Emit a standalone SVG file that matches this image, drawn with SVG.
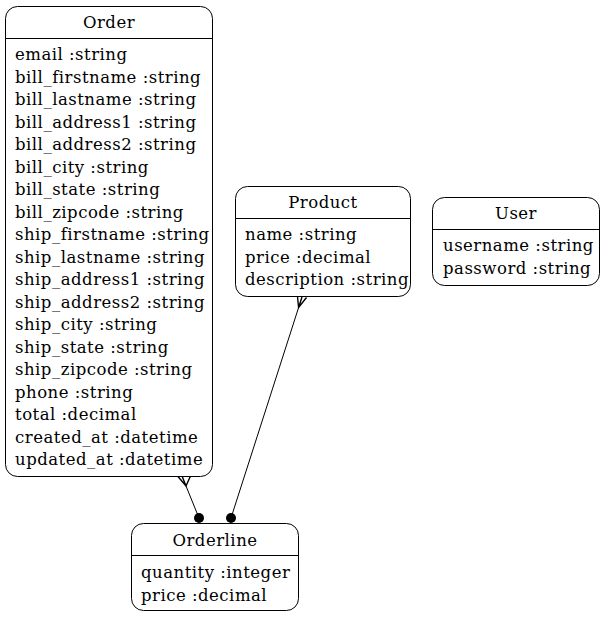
<svg xmlns="http://www.w3.org/2000/svg" width="605" height="617" viewBox="0 0 605 617">
<style>
.box{fill:#fff;stroke:#000;stroke-width:1}
.sep{stroke:#000;stroke-width:1}
text{font-family:"DejaVu Serif",serif;font-size:16.5px;letter-spacing:0.5px;fill:#000}
.t{text-anchor:middle}
.edge{stroke:#000;stroke-width:1;fill:none}
.crow{stroke:#000;stroke-width:1.4;fill:none;stroke-linejoin:miter}
</style>
<rect width="605" height="617" fill="#fff"/>
<g id="connectors">
<path class="edge" d="M186,486 L199,518"/>
<path class="crow" d="M177.5,476 L186,486 L190.5,476 M182,476 L186,486"/>
<circle cx="199" cy="518" r="5" fill="#000"/>
<path class="edge" d="M298.6,307.5 L231,518"/>
<path class="crow" d="M297.5,296.5 L298.6,307.5 L306.5,297.5 M302,297 L298.6,307.5"/>
<circle cx="231" cy="518" r="5" fill="#000"/>
</g>
<g id="Order">
<rect class="box" x="5.5" y="6.5" width="207" height="470" rx="12"/>
<line class="sep" x1="5.5" y1="38.5" x2="212.5" y2="38.5"/>
<text class="t" x="109" y="28">Order</text>
<text x="15" y="60">email :string</text>
<text x="15" y="82.5">bill_firstname :string</text>
<text x="15" y="105">bill_lastname :string</text>
<text x="15" y="127.5">bill_address1 :string</text>
<text x="15" y="150">bill_address2 :string</text>
<text x="15" y="172.5">bill_city :string</text>
<text x="15" y="195">bill_state :string</text>
<text x="15" y="217.5">bill_zipcode :string</text>
<text x="15" y="240">ship_firstname :string</text>
<text x="15" y="262.5">ship_lastname :string</text>
<text x="15" y="285">ship_address1 :string</text>
<text x="15" y="307.5">ship_address2 :string</text>
<text x="15" y="330">ship_city :string</text>
<text x="15" y="352.5">ship_state :string</text>
<text x="15" y="375">ship_zipcode :string</text>
<text x="15" y="397.5">phone :string</text>
<text x="15" y="420">total :decimal</text>
<text x="15" y="442.5">created_at :datetime</text>
<text x="15" y="465">updated_at :datetime</text>
</g>
<g id="Product">
<rect class="box" x="235.5" y="186.5" width="175" height="110" rx="12"/>
<line class="sep" x1="235.5" y1="218.5" x2="410.5" y2="218.5"/>
<text class="t" x="323" y="208">Product</text>
<text x="245" y="240">name :string</text>
<text x="245" y="262.5">price :decimal</text>
<text x="245" y="285">description :string</text>
</g>
<g id="User">
<rect class="box" x="432.5" y="197.5" width="167" height="88" rx="12"/>
<line class="sep" x1="432.5" y1="229.5" x2="599.5" y2="229.5"/>
<text class="t" x="516" y="219">User</text>
<text x="443" y="251">username :string</text>
<text x="443" y="273.5">password :string</text>
</g>
<g id="Orderline">
<rect class="box" x="131.5" y="523.5" width="167" height="87" rx="12"/>
<line class="sep" x1="131.5" y1="555.5" x2="298.5" y2="555.5"/>
<text class="t" x="215" y="546">Orderline</text>
<text x="141" y="578">quantity :integer</text>
<text x="141" y="600.5">price :decimal</text>
</g>
</svg>
